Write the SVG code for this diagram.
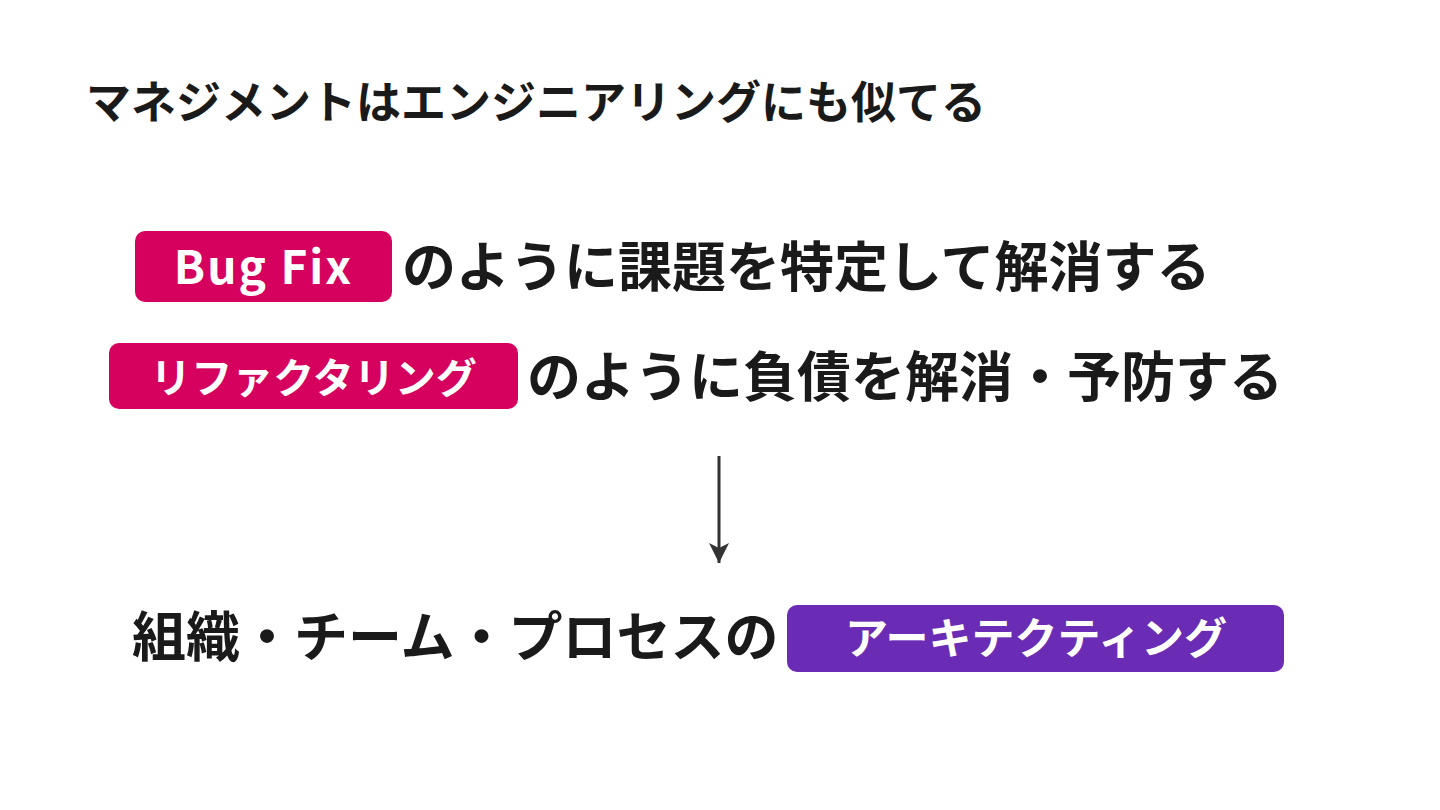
<svg xmlns="http://www.w3.org/2000/svg" width="1440" height="810" viewBox="0 0 1440 810">
<defs>
<style>
.jp{font-family:"Noto Sans CJK JP","Noto Sans",sans-serif;font-weight:700;fill:#1a1a1a}
.bd{font-family:"Noto Sans CJK JP","Noto Sans",sans-serif;font-weight:700;fill:#ffffff}
.pink{fill:#d6005f}
.purple{fill:#6a2cb4}
.conn{stroke:#333333;stroke-width:3;fill:none}
</style>
<marker id="ah" viewBox="0 0 24 20" refX="20" refY="10" markerWidth="24" markerHeight="20" markerUnits="userSpaceOnUse" orient="auto">
<path d="M0,0 L20,10 L0,20 L5,10 z" fill="#333333"/>
</marker>
</defs>
<rect width="1440" height="810" fill="#ffffff"/>
<g id="title">
<text class="jp" x="86" y="119" font-size="45">マネジメントはエンジニアリングにも似てる</text>
</g>
<g id="bugfix">
<rect class="pink" x="135" y="231" width="257" height="71" rx="10"/>
<text class="bd" x="263.5" y="284" font-size="46" letter-spacing="2" text-anchor="middle">Bug Fix</text>
<text class="jp" x="402" y="287" font-size="54">のように課題を特定して解消する</text>
</g>
<g id="refactoring">
<rect class="pink" x="109" y="343" width="409" height="66" rx="10"/>
<text class="bd" x="313.5" y="393" font-size="41" text-anchor="middle">リファクタリング</text>
<text class="jp" x="527" y="397" font-size="54">のように負債を解消・予防する</text>
</g>
<g id="connectors">
<line class="conn" x1="719" y1="456" x2="719" y2="563" marker-end="url(#ah)"/>
</g>
<g id="architecting">
<text class="jp" x="132" y="657" font-size="54">組織・チーム・プロセスの</text>
<rect class="purple" x="787" y="605" width="497" height="67" rx="10"/>
<text class="bd" x="1036" y="654" font-size="43" text-anchor="middle">アーキテクティング</text>
</g>
</svg>
